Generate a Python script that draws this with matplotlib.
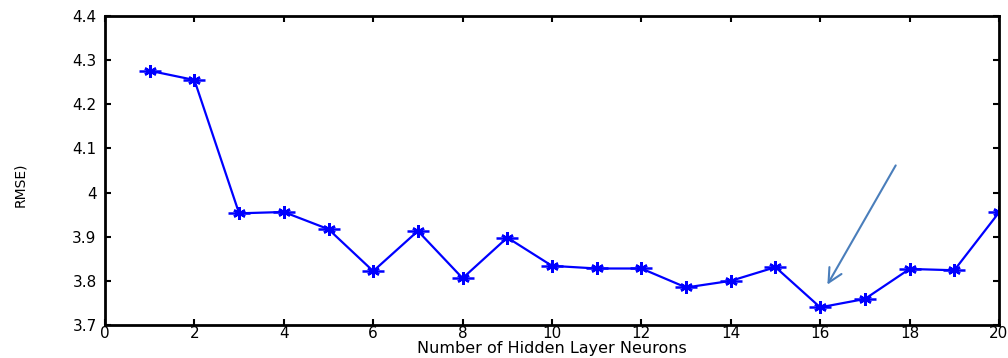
import matplotlib.pyplot as plt
import numpy as np

# number of hidden neurons vs RMSE
neurons = list(range(1, 21))
rmse = [4.276, 4.255, 3.953, 3.956, 3.917, 3.822, 3.913, 3.806, 3.898, 3.834,
        3.828, 3.828, 3.785, 3.800, 3.831, 3.740, 3.759, 3.827, 3.824, 3.955]

xticks = list(range(0, 21, 2))
yticks = [3.7, 3.8, 3.9, 4.0, 4.1, 4.2, 4.3, 4.4]
ytick_labels = ['3.7', '3.8', '3.9', '4', '4.1', '4.2', '4.3', '4.4']

arrow_tail = (17.72, 4.067)
arrow_head = (16.13, 3.786)

plt.rcParams['font.family'] = ['DejaVu Sans']

fig = plt.figure(figsize=(10.08, 3.58), dpi=100)
ax = fig.add_axes([105/1008, 1-325/358, (999-105)/1008, (325-16)/358])

ax.plot(neurons, rmse, color='#0000ff', lw=1.6, marker=(6, 2, 0), ms=9, mew=1.8)
# matlab style '*' looks stretched sideways in the picture
ax.plot(neurons, rmse, ls='none', color='#0000ff', marker='_', ms=16, mew=1.8)

ax.annotate('', xy=arrow_head, xytext=arrow_tail,
            arrowprops=dict(arrowstyle='->', color='#4a7ebb', lw=1.5,
                            mutation_scale=25))

ax.set_xlim(0, 20)
ax.set_ylim(3.7, 4.4)
ax.set_xticks(xticks)
ax.set_yticks(yticks)
ax.set_yticklabels(ytick_labels)
ax.tick_params(direction='in', top=True, right=True, length=4, width=1.5,
               labelsize=11)
ax.tick_params(axis='x', pad=1)
ax.tick_params(axis='y', pad=6)
for s in ax.spines.values():
    s.set_linewidth(2)

ax.set_xlabel('Number of Hidden Layer Neurons', fontsize=11.5, labelpad=0)
fig.text(20/1008, 1-185/358, 'RMSE)', rotation=90, fontsize=10,
         ha='center', va='center')

fig.savefig('out.png', dpi=100)
